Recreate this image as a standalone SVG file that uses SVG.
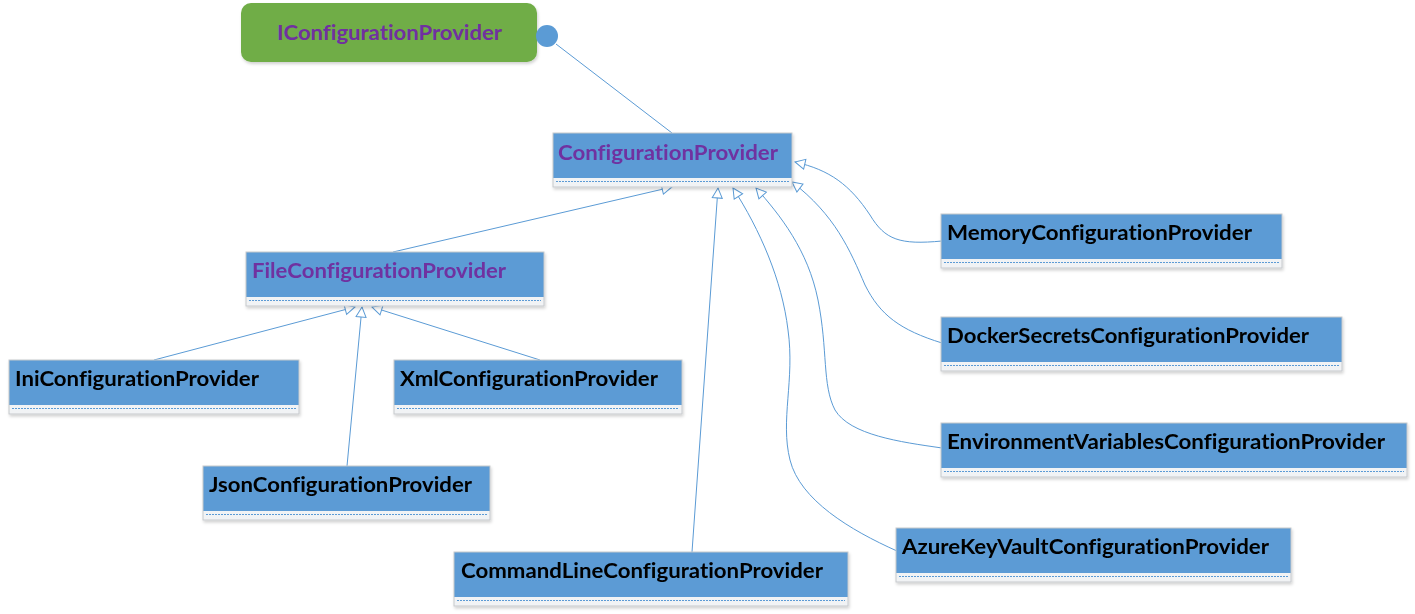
<svg xmlns="http://www.w3.org/2000/svg" width="1415" height="614" viewBox="0 0 1415 614">
<style>
.box{fill:#5B9BD5;}
.comp{fill:#f1f3f5;}
.frame{fill:none;stroke:#c6c9cc;stroke-width:1;}
.dash{stroke:#5B9BD5;stroke-width:1;stroke-dasharray:2 1;fill:none;}
.lbl{font-family:Lato,"Liberation Sans",sans-serif;font-weight:bold;font-size:21.5px;fill:#000;font-variant-ligatures:none;font-feature-settings:"liga" 0;}
.abs{fill:#7030A0;}
.conn{fill:none;stroke:#5B9BD5;stroke-width:1;}
</style>
<defs>
<filter id="sh" x="-5%" y="-20%" width="110%" height="150%">
<feDropShadow dx="1" dy="2" stdDeviation="1.5" flood-color="#000" flood-opacity="0.18"/>
</filter>
<marker id="tri" markerUnits="userSpaceOnUse" markerWidth="14" markerHeight="14" refX="11" refY="6" orient="auto" viewBox="0 0 14 12">
<path d="M1,1 L11,6 L1,11 z" fill="#fff" stroke="#5B9BD5" stroke-width="1"/>
</marker>
</defs>
<rect width="1415" height="614" fill="#fff"/>

<g id="connectors">
<path class="conn" d="M556,44 L672,133"/>
<path class="conn" marker-end="url(#tri)" d="M393,252 L672,187"/>
<path class="conn" marker-end="url(#tri)" d="M154,360 L355,307"/>
<path class="conn" marker-end="url(#tri)" d="M347,466 L362,307"/>
<path class="conn" marker-end="url(#tri)" d="M540,360 L372,307"/>
<path class="conn" marker-end="url(#tri)" d="M692,552 L718,188"/>
<path class="conn" marker-end="url(#tri)" d="M897,551 C850,530 800,500 790,460 C780,420 795,380 788,330 C782,280 760,230 733,188"/>
<path class="conn" marker-end="url(#tri)" d="M942,448 C900,442 850,435 835,410 C822,385 828,350 818,300 C808,250 780,215 756,188"/>
<path class="conn" marker-end="url(#tri)" d="M942,343 C900,330 880,315 865,285 C850,250 835,215 792,182"/>
<path class="conn" marker-end="url(#tri)" d="M942,241 C900,245 885,240 870,215 C850,185 830,170 795,162"/>
</g>

<g id="IConfigurationProvider">
<rect x="241" y="3" width="296" height="59" rx="10" fill="#70AD47" filter="url(#sh)"/>
<text class="lbl abs" x="277" y="40" textLength="225" lengthAdjust="spacingAndGlyphs">IConfigurationProvider</text>
<circle cx="547" cy="36" r="11" fill="#5B9BD5"/>
</g>

<g id="ConfigurationProvider" filter="url(#sh)">
<rect class="box" x="553" y="133" width="239" height="45"/>
<rect class="comp" x="553" y="178" width="239" height="9"/>
<rect class="frame" x="553" y="133" width="239" height="54"/>
<line class="dash" x1="556" y1="181.5" x2="789" y2="181.5"/>
<text class="lbl abs" x="558" y="160" textLength="220" lengthAdjust="spacingAndGlyphs">ConfigurationProvider</text>
</g>

<g id="FileConfigurationProvider" filter="url(#sh)">
<rect class="box" x="246" y="252" width="298" height="45"/>
<rect class="comp" x="246" y="297" width="298" height="9"/>
<rect class="frame" x="246" y="252" width="298" height="54"/>
<line class="dash" x1="249" y1="300.5" x2="541" y2="300.5"/>
<text class="lbl abs" x="252" y="278" textLength="254" lengthAdjust="spacingAndGlyphs">FileConfigurationProvider</text>
</g>

<g id="IniConfigurationProvider" filter="url(#sh)">
<rect class="box" x="9" y="360" width="290" height="45"/>
<rect class="comp" x="9" y="405" width="290" height="9"/>
<rect class="frame" x="9" y="360" width="290" height="54"/>
<line class="dash" x1="12" y1="408.5" x2="296" y2="408.5"/>
<text class="lbl" x="15" y="386" textLength="244" lengthAdjust="spacingAndGlyphs">IniConfigurationProvider</text>
</g>

<g id="XmlConfigurationProvider" filter="url(#sh)">
<rect class="box" x="394" y="360" width="288" height="45"/>
<rect class="comp" x="394" y="405" width="288" height="9"/>
<rect class="frame" x="394" y="360" width="288" height="54"/>
<line class="dash" x1="397" y1="408.5" x2="679" y2="408.5"/>
<text class="lbl" x="400" y="386" textLength="258" lengthAdjust="spacingAndGlyphs">XmlConfigurationProvider</text>
</g>

<g id="JsonConfigurationProvider" filter="url(#sh)">
<rect class="box" x="203" y="466" width="287" height="45"/>
<rect class="comp" x="203" y="511" width="287" height="9"/>
<rect class="frame" x="203" y="466" width="287" height="54"/>
<line class="dash" x1="206" y1="514.5" x2="487" y2="514.5"/>
<text class="lbl" x="209" y="492" textLength="263" lengthAdjust="spacingAndGlyphs">JsonConfigurationProvider</text>
</g>

<g id="CommandLineConfigurationProvider" filter="url(#sh)">
<rect class="box" x="454" y="552" width="394" height="45"/>
<rect class="comp" x="454" y="597" width="394" height="9"/>
<rect class="frame" x="454" y="552" width="394" height="54"/>
<line class="dash" x1="457" y1="600.5" x2="845" y2="600.5"/>
<text class="lbl" x="461" y="578" textLength="362" lengthAdjust="spacingAndGlyphs">CommandLineConfigurationProvider</text>
</g>

<g id="MemoryConfigurationProvider" filter="url(#sh)">
<rect class="box" x="941" y="214" width="341" height="45"/>
<rect class="comp" x="941" y="259" width="341" height="9"/>
<rect class="frame" x="941" y="214" width="341" height="54"/>
<line class="dash" x1="944" y1="262.5" x2="1279" y2="262.5"/>
<text class="lbl" x="947" y="240" textLength="305" lengthAdjust="spacingAndGlyphs">MemoryConfigurationProvider</text>
</g>

<g id="DockerSecretsConfigurationProvider" filter="url(#sh)">
<rect class="box" x="941" y="317" width="401" height="45"/>
<rect class="comp" x="941" y="362" width="401" height="9"/>
<rect class="frame" x="941" y="317" width="401" height="54"/>
<line class="dash" x1="944" y1="365.5" x2="1339" y2="365.5"/>
<text class="lbl" x="947" y="343" textLength="362" lengthAdjust="spacingAndGlyphs">DockerSecretsConfigurationProvider</text>
</g>

<g id="EnvironmentVariablesConfigurationProvider" filter="url(#sh)">
<rect class="box" x="941" y="423" width="466" height="45"/>
<rect class="comp" x="941" y="468" width="466" height="9"/>
<rect class="frame" x="941" y="423" width="466" height="54"/>
<line class="dash" x1="944" y1="471.5" x2="1404" y2="471.5"/>
<text class="lbl" x="947" y="449" textLength="438" lengthAdjust="spacingAndGlyphs">EnvironmentVariablesConfigurationProvider</text>
</g>

<g id="AzureKeyVaultConfigurationProvider" filter="url(#sh)">
<rect class="box" x="896" y="528" width="395" height="45"/>
<rect class="comp" x="896" y="573" width="395" height="9"/>
<rect class="frame" x="896" y="528" width="395" height="54"/>
<line class="dash" x1="899" y1="576.5" x2="1288" y2="576.5"/>
<text class="lbl" x="902" y="554" textLength="367" lengthAdjust="spacingAndGlyphs">AzureKeyVaultConfigurationProvider</text>
</g>
</svg>
